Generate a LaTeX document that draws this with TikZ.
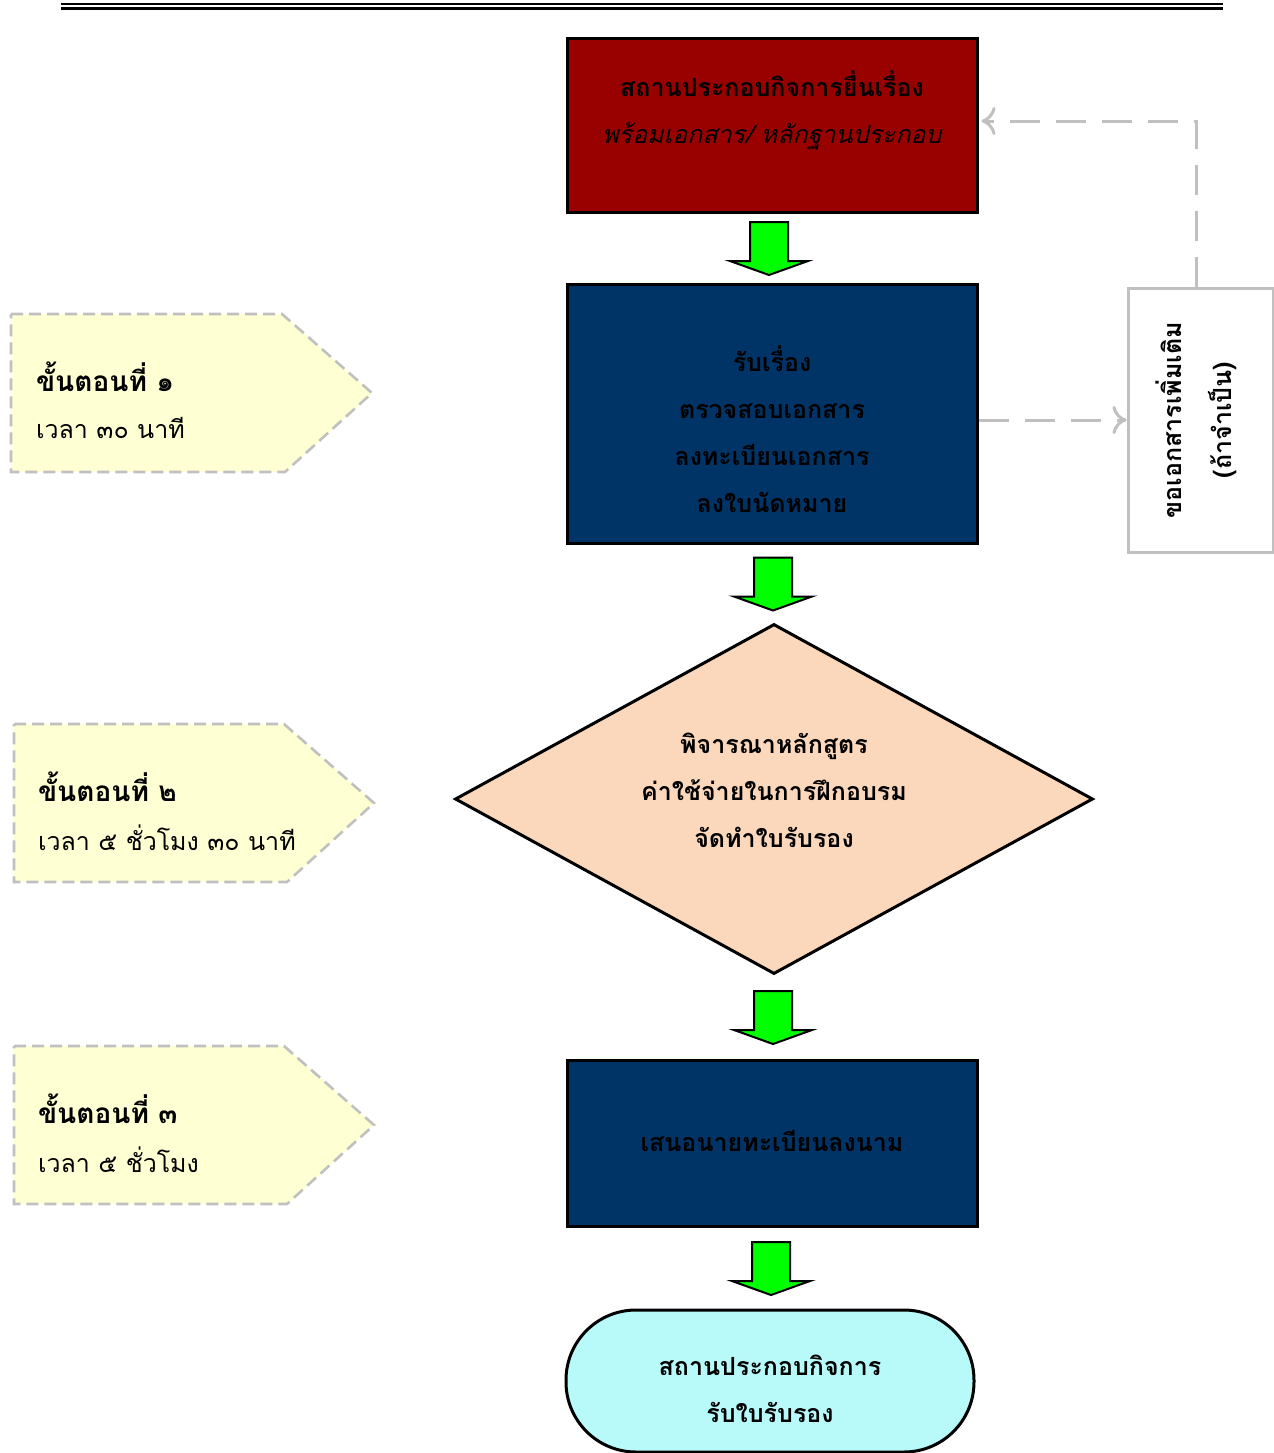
\documentclass[tikz,border=0pt]{standalone}
\usepackage{fontspec}
\newfontfamily\thai[Script=Thai]{Loma}
\usetikzlibrary{shapes.geometric,arrows.meta,calc}
\definecolor{boxred}{HTML}{990000}
\definecolor{boxnavy}{HTML}{003366}
\definecolor{peach}{HTML}{FBD8BC}
\definecolor{termcyan}{HTML}{B8FAFA}
\definecolor{paleyellow}{HTML}{FFFFD4}
\definecolor{arrowgreen}{HTML}{00FF00}
\definecolor{linegray}{HTML}{C0C0C0}
\tikzset{
  blockbox/.style={draw=black, line width=1.5pt, inner sep=0pt},
  boxtext/.style={align=center, font=\thai\bfseries\fontsize{12.5}{23.5}\selectfont, text=black},
  greenarrowstyle/.style={draw=black, line width=1pt, fill=arrowgreen, line join=miter},
  dashconn/.style={draw=linegray, line width=1.5pt, dash pattern=on 15pt off 8pt, -{To[length=7pt,width=14pt,line width=1.5pt]}},
  stepshape/.style={draw=linegray, line width=1.3pt, dash pattern=on 6pt off 3pt, fill=paleyellow},
  stephead/.style={anchor=west, font=\thai\bfseries\fontsize{14}{16}\selectfont},
  steptime/.style={anchor=west, font=\thai\fontsize{12.5}{15}\selectfont},
}
\newcommand\bigdownarrow[1]{\begin{scope}[shift={(#1)}]
  \draw[greenarrowstyle] (-19,-26) -- (19,-26) -- (19,13) -- (39,13) -- (0,27) -- (-39,13) -- (-19,13) -- cycle;
\end{scope}}
\begin{document}
\begin{tikzpicture}[x=0.5pt,y=-0.5pt, font=\thai]
\useasboundingbox (0,0) rectangle (1274,1453);
% top rule
\draw[line width=1pt] (61,3.5) -- (1223,3.5);
\draw[line width=1.6pt] (61,8.5) -- (1223,8.5);

% main flow
\node[blockbox, fill=boxred, minimum width=205pt, minimum height=87pt] (start) at (772,125) {};
\node[boxtext] (starttxt) at (772,110) {สถานประกอบกิจการยื่นเรื่อง\\\mdseries\itshape พร้อมเอกสาร/ หลักฐานประกอบ};

\node[blockbox, fill=boxnavy, minimum width=205pt, minimum height=129.5pt] (receive) at (772,413.5) {};
\node[boxtext] (receivetxt) at (772,429) {รับเรื่อง\\ตรวจสอบเอกสาร\\ลงทะเบียนเอกสาร\\ลงใบนัดหมาย};

\node[diamond, draw=black, line width=1.5pt, fill=peach, minimum width=319pt, minimum height=175pt, inner sep=0pt] (consider) at (774,799) {};
\node[boxtext] (considertxt) at (774,790) {พิจารณาหลักสูตร\\ค่าใช้จ่ายในการฝึกอบรม\\จัดทำใบรับรอง};

\node[blockbox, fill=boxnavy, minimum width=205pt, minimum height=83pt] (propose) at (772,1143) {};
\node[boxtext] (proposetxt) at (772,1141) {เสนอนายทะเบียนลงนาม};

\node[blockbox, fill=termcyan, minimum width=204pt, minimum height=71pt, rounded corners=35pt] (finish) at (770,1381) {};
\node[boxtext] (finishtxt) at (770,1389) {สถานประกอบกิจการ\\รับใบรับรอง};

% side box
\node[draw=linegray, line width=1.5pt, fill=white, minimum width=72.5pt, minimum height=132pt, inner sep=0pt] (more) at (1200.5,420) {};
\node[boxtext, rotate=90, font=\thai\bfseries\fontsize{12.5}{25}\selectfont] (moretxt) at (1196,420) {ขอเอกสารเพิ่มเติม\\(ถ้าจำเป็น)};

% green arrows
\coordinate (a1) at ($(start.south)!0.5!(receive.north)+(-3,0)$);
\coordinate (a2) at ($(receive.south)!0.5!(consider.north)$);
\coordinate (a3) at ($(consider.south)!0.5!(propose.north)$);
\coordinate (a4) at ($(propose.south)!0.5!(finish.north)$);
\bigdownarrow{a1}
\bigdownarrow{a2}
\bigdownarrow{a3}
\bigdownarrow{a4}

% dashed connectors
\draw[dashconn] (more.west -| receive.east) -- (more.west);
\draw[dashconn] ([xshift=-2pt]more.north) |- ([yshift=2pt,xshift=1.5pt]start.east);

% step labels
\draw[stepshape] (11,314) -- (282,314) -- (372,393) -- (285,472) -- (11,472) -- cycle;
\node[stephead] (s1h) at (29,377) {ขั้นตอนที่ ๑};
\node[steptime] (s1t) at (29,428) {เวลา  ๓๐  นาที};

\draw[stepshape] (14,724) -- (284,724) -- (374,803) -- (287,882) -- (14,882) -- cycle;
\node[stephead] (s2h) at (31,787) {ขั้นตอนที่ ๒};
\node[steptime] (s2t) at (31,838) {เวลา  ๕ ชั่วโมง ๓๐  นาที};

\draw[stepshape] (14,1046) -- (284,1046) -- (374,1125) -- (287,1204) -- (14,1204) -- cycle;
\node[stephead] (s3h) at (31,1109) {ขั้นตอนที่ ๓};
\node[steptime] (s3t) at (31,1160) {เวลา  ๕ ชั่วโมง};
\end{tikzpicture}
\end{document}
